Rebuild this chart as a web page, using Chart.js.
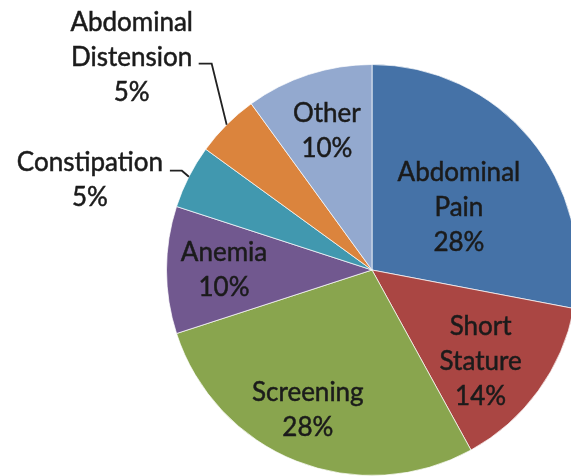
<!DOCTYPE html>
<html>
<head>
<meta charset="utf-8">
<script src="https://cdn.jsdelivr.net/npm/chart.js@4.4.1/dist/chart.umd.min.js"></script>
<style>
  html, body { margin: 0; padding: 0; background: #fff; overflow: hidden; }
  #wrap { position: absolute; left: 0; top: 0; width: 571px; height: 476px; overflow: hidden; }
  canvas { position: absolute; left: 0; top: 0; }
</style>
</head>
<body>
<div id="wrap"><canvas id="pie" width="600" height="500"></canvas></div>
<script>
// reasons for referral, clockwise from 12 o'clock
const categories = ["Abdominal Pain", "Short Stature", "Screening", "Anemia", "Constipation", "Abdominal Distension", "Other"];
const values = [28, 14, 28, 10, 5, 5, 10];
const colors = ["#4572A7", "#AA4643", "#89A54E", "#71588F", "#4198AF", "#DB843D", "#93A9CF"];

// inside labels: radius fraction, angle nudge (deg)
const labelPlace = {
  "Abdominal Pain": [0.52, 4],
  "Short Stature": [0.69, 4],
  "Screening": [0.75, 3],
  "Anemia": [0.72, 0],
  "Other": [0.71, 0]
};
// outside labels: elbow, line end, text centre (offsets from the slice edge)
const leaders = {
  "Abdominal Distension": { elbow: [-15, -61], end: [-28, -61], text: [-95, -67] },
  "Constipation": { elbow: [-7, -6], end: [-19, -6], text: [-99, 3] }
};

const lineH = 35;

const sliceLabels = {
  id: "sliceLabels",
  afterDatasetsDraw(chart) {
    const ctx = chart.ctx;
    const meta = chart.getDatasetMeta(0);
    const total = values.reduce((a, b) => a + b, 0);
    ctx.save();
    ctx.font = "26px Lato";
    ctx.textAlign = "center";
    ctx.textBaseline = "middle";
    meta.data.forEach((arc, i) => {
      const p = arc.getProps(["x", "y", "startAngle", "endAngle", "outerRadius"], true);
      const mid = (p.startAngle + p.endAngle) / 2;
      const name = categories[i];
      const lines = name.split(" ").concat(Math.round(values[i] / total * 100) + "%");
      let cx, cy;
      const lead = leaders[name];
      if (lead) {
        const ex = p.x + Math.cos(mid) * p.outerRadius;
        const ey = p.y + Math.sin(mid) * p.outerRadius;
        ctx.strokeStyle = "#222";
        ctx.lineWidth = 1.8;
        ctx.beginPath();
        ctx.moveTo(ex, ey);
        ctx.lineTo(ex + lead.elbow[0], ey + lead.elbow[1]);
        ctx.lineTo(ex + lead.end[0], ey + lead.end[1]);
        ctx.stroke();
        cx = ex + lead.text[0];
        cy = ey + lead.text[1];
      } else {
        const pl = labelPlace[name] || [0.7, 0];
        const a = mid + pl[1] * Math.PI / 180;
        cx = p.x + Math.cos(a) * p.outerRadius * pl[0];
        cy = p.y + Math.sin(a) * p.outerRadius * pl[0];
      }
      ctx.fillStyle = "#1b1b1b";
      ctx.strokeStyle = "#1b1b1b";
      ctx.lineWidth = 0.5;
      lines.forEach((t, k) => {
        const ty = cy + (k - (lines.length - 1) / 2) * lineH;
        ctx.fillText(t, cx, ty);
        ctx.strokeText(t, cx, ty);
      });
    });
    ctx.restore();
  }
};

new Chart(document.getElementById("pie"), {
  type: "pie",
  data: {
    labels: categories,
    datasets: [{
      data: values,
      backgroundColor: colors,
      borderColor: "rgba(255,255,255,0.7)",
      borderWidth: 1
    }]
  },
  options: {
    responsive: false,
    animation: false,
    devicePixelRatio: 1,
    layout: { padding: { left: 166, top: 64, right: 22, bottom: 24 } },
    plugins: {
      legend: { display: false },
      tooltip: { enabled: false }
    }
  },
  plugins: [sliceLabels]
});
</script>
</body>
</html>
